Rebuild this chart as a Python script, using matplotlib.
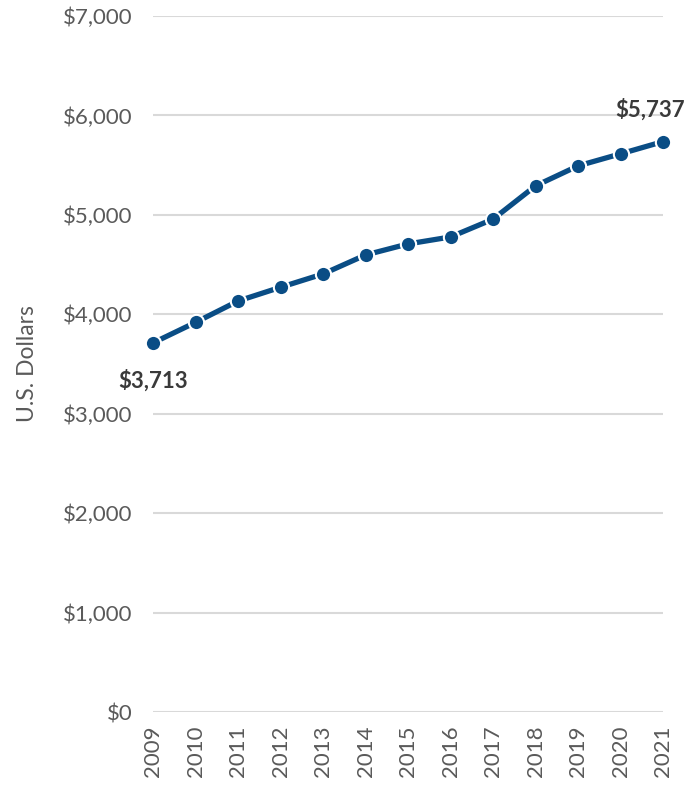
import matplotlib.pyplot as plt
from matplotlib.ticker import FuncFormatter

YEARS = [2009, 2010, 2011, 2012, 2013, 2014, 2015, 2016, 2017, 2018, 2019, 2020, 2021]
SPENDING = [3713, 3919, 4134, 4272, 4406, 4597, 4708, 4778, 4957, 5292, 5493, 5614, 5737]
Y_TICKS = [0, 1000, 2000, 3000, 4000, 5000, 6000, 7000]

LINE_COLOR = "#0a4d85"
TEXT_COLOR = "#5a5a5a"
GRID_COLOR = "#d9d9d9"


def main():
    plt.rcParams["font.family"] = ["Lato", "DejaVu Sans"]

    fig = plt.figure(figsize=(6.99, 7.86), dpi=100)
    ax = fig.add_axes([0.219, 0.0941, 0.7295, 0.8855])

    ax.plot(YEARS, SPENDING, color=LINE_COLOR, linewidth=3.8, marker="o",
            markersize=11, markerfacecolor=LINE_COLOR, markeredgecolor="white",
            markeredgewidth=1.5, clip_on=False, zorder=3)

    ax.set_xlim(YEARS[0], YEARS[-1])
    ax.set_ylim(0, 7000)
    ax.set_yticks(Y_TICKS)
    ax.yaxis.set_major_formatter(FuncFormatter(lambda v, _: f"${v:,.0f}"))
    ax.set_xticks(YEARS)
    ax.set_xticklabels([str(y) for y in YEARS], rotation=90)

    ax.tick_params(axis="y", length=0, pad=15, labelsize=16, labelcolor=TEXT_COLOR)
    ax.tick_params(axis="x", length=0, pad=9.5, labelsize=16, labelcolor=TEXT_COLOR)
    ax.grid(axis="y", color=GRID_COLOR, linewidth=1.5)
    ax.set_axisbelow(True)
    for s in ax.spines.values():
        s.set_visible(False)

    ax.set_ylabel("U.S. Dollars", fontsize=16.5, color=TEXT_COLOR, labelpad=18)

    ax.annotate(f"${SPENDING[0]:,}", (YEARS[0], SPENDING[0]), xytext=(0, -27),
                textcoords="offset points", ha="center", va="center",
                fontsize=16, fontweight="bold", color="#3a3a3a")
    ax.annotate(f"${SPENDING[-1]:,}", (YEARS[-1], SPENDING[-1]), xytext=(-9.5, 23),
                textcoords="offset points", ha="center", va="center",
                fontsize=16, fontweight="bold", color="#3a3a3a")

    fig.savefig("out.png", dpi=100)


if __name__ == "__main__":
    main()
